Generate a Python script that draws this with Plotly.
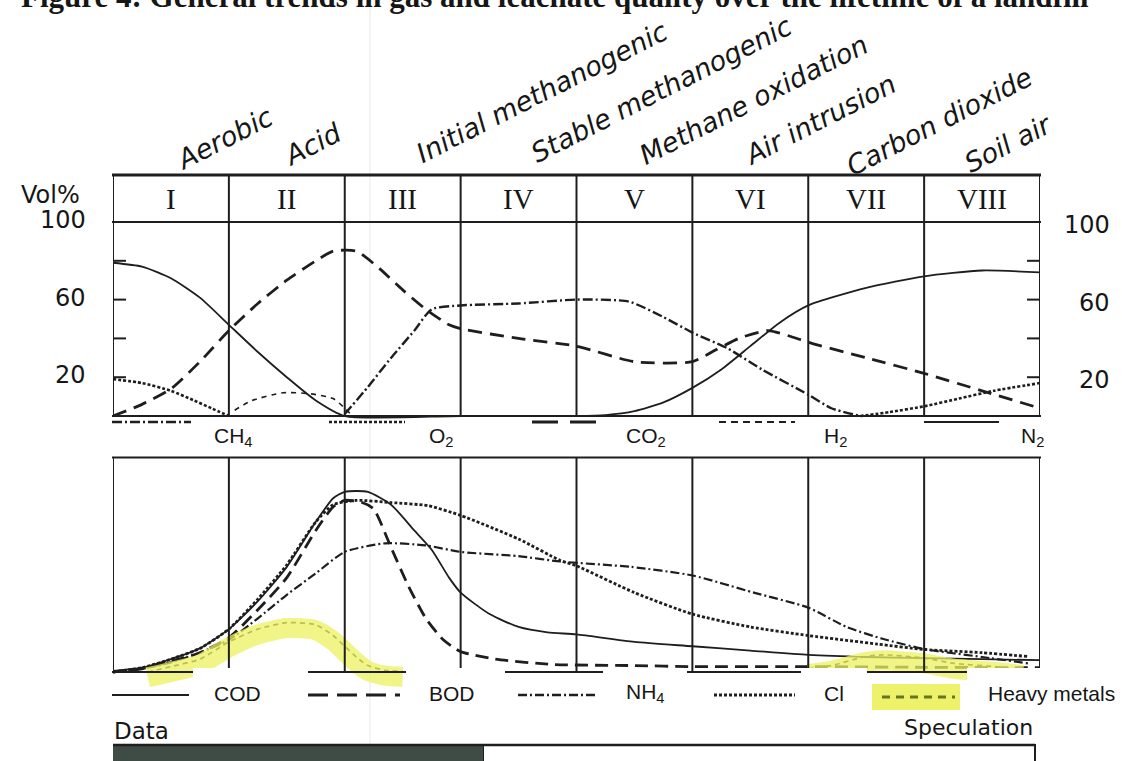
import plotly.graph_objects as go

W, H = 1122, 761
def px(x): return x / W
def py(y): return 1 - y / H

# ---------------- DATA ----------------
phases_roman = ["I", "II", "III", "IV", "V", "VI", "VII", "VIII"]
phase_names = ["Aerobic", "Acid", "Initial methanogenic", "Stable methanogenic",
               "Methane oxidation", "Air intrusion", "Carbon dioxide", "Soil air"]

gas_ticks_left = [100, 60, 20]
gas_ticks_right = [100, 60, 20]

# Gas composition (Vol%) vs phase position (0..8)
n2_t = [0, 0.25, 0.5, 0.75, 1.0, 1.25, 1.5, 1.75, 2.0, 3.0, 4.0, 4.25, 4.5, 4.75, 5.0, 5.25, 5.5, 5.75, 6.0, 6.5, 7.0, 7.5, 8.0]
n2_v = [79, 77, 71, 61, 47, 33, 20, 8, 0, 0, 0, 0.5, 2.5, 7, 14.5, 24, 36, 48, 57, 66, 72, 75, 74]

co2_t = [0, 0.25, 0.5, 0.75, 1.0, 1.25, 1.5, 1.75, 1.9, 2.1, 2.3, 2.5, 2.7, 2.9, 3.0, 3.5, 4.0, 4.5, 5.0, 5.2, 5.4, 5.65, 5.85, 6.0, 6.5, 7.0, 7.5, 8.0]
co2_v = [0, 6, 14, 28, 44, 58, 70, 80, 85, 85, 76, 65, 55, 47, 45, 40, 36, 28, 28, 34, 40, 44, 41, 38, 30, 22, 13, 4]

ch4_t = [2.0, 2.2, 2.4, 2.6, 2.75, 3.0, 3.5, 4.0, 4.45, 4.75, 5.0, 5.3, 5.6, 6.0, 6.2, 6.45]
ch4_v = [1, 15, 30, 44, 55, 57, 58, 60, 59, 51, 43, 35, 24, 11, 4, 0]

o2_t = [0, 0.25, 0.5, 0.7, 0.85, 1.0, None, 6.45, 6.7, 7.0, 7.3, 7.6, 8.0]
o2_v = [19, 17, 13, 8, 4, 0, None, 0, 2, 5, 9, 13, 17]

h2_t = [1.05, 1.2, 1.47, 1.7, 1.9, 2.0, 2.05]
h2_v = [3, 8, 12, 11.5, 9, 4, 1]

# Leachate quality (relative) vs phase position
cod_t = [0, 0.25, 0.5, 0.75, 1.0, 1.25, 1.5, 1.75, 1.9, 2.0, 2.2, 2.4, 2.6, 2.75, 2.9, 3.0, 3.25, 3.5, 3.75, 4.0, 4.5, 5.0, 5.5, 6.0, 6.5, 7.0, 7.5, 8.0]
cod_v = [0.5, 2, 6, 11, 20, 33, 49, 70, 81, 84, 84, 78, 66, 57, 44, 37, 27, 21, 18.5, 17.5, 14, 12, 10, 8, 7, 6.5, 6, 5.5]

bod_t = [0, 0.25, 0.5, 0.75, 1.0, 1.25, 1.5, 1.75, 1.9, 2.0, 2.15, 2.25, 2.4, 2.55, 2.7, 2.85, 3.0, 3.3, 3.8, 4.5, 5.0, 6.0, 7.0, 8.0]
bod_v = [0, 1.5, 5, 9, 16, 29, 44, 66, 77, 80, 79, 76, 58, 40, 25, 15, 9.5, 6, 3.5, 3, 2.5, 2.5, 2.2, 2]

nh4_t = [0, 0.25, 0.5, 0.75, 1.0, 1.25, 1.5, 1.75, 2.0, 2.35, 2.7, 3.0, 3.5, 3.86, 4.47, 5.0, 5.53, 6.0, 6.33, 6.64, 7.0, 7.5, 7.9]
nh4_v = [0, 1.5, 4.5, 9, 15, 25, 36, 46, 56, 60, 59, 56, 54, 51.5, 49, 45, 37, 30, 21, 15.5, 10.7, 7, 4]

cl_t = [0, 0.25, 0.5, 0.75, 1.0, 1.25, 1.5, 1.75, 1.9, 2.1, 2.4, 2.72, 3.0, 3.5, 3.86, 4.0, 4.5, 5.0, 5.5, 6.0, 6.6, 7.0, 7.5, 7.9]
cl_v = [0, 2, 6, 11, 20, 34, 50, 70, 78, 80, 79, 77.5, 73, 62, 52, 49.5, 37, 27, 21, 17, 13, 10.5, 9, 7.2]

hm_t = [0.3, 0.5, 0.75, 1.0, 1.25, 1.5, 1.75, 1.9, 2.0, 2.1, 2.2, 2.35, 2.5, None, 6.0, 6.2, 6.48, 6.64, 7.0, 7.26, 7.66, 7.85]
hm_v = [0, 2.5, 6, 14, 20, 23, 22, 17, 12, 7, 3, 0.8, 0.3, None, 1.5, 3, 7, 8, 6.5, 4, 2.3, 1]

gas_legend = ["CH<sub>4</sub>", "O<sub>2</sub>", "CO<sub>2</sub>", "H<sub>2</sub>", "N<sub>2</sub>"]
leach_legend = ["COD", "BOD", "NH<sub>4</sub>", "Cl", "Heavy metals"]

# ---------------- STYLE ----------------
INK = "#1e1e1e"
YEL = "#edf26a"
dash_ch4 = "10px,3px,2px,3px"
dash_o2 = "3px,2px"
dash_co2 = "14px,8px"
dash_h2 = "5px,5px"
dash_bod = "13px,7px"
dash_nh4 = "9px,3px,2px,3px"
dash_cl = "3px,2px"
dash_hm = "5px,4px"

fig = go.Figure()

def line(x, y, dash, width, xa="x", ya="y", color=INK, name=""):
    fig.add_trace(go.Scatter(x=x, y=y, mode="lines", xaxis=xa, yaxis=ya, name=name,
                             line=dict(color=color, width=width, dash=dash, shape="spline", smoothing=0.6),
                             connectgaps=False, hoverinfo="skip", showlegend=False))

# top panel
line(n2_t, n2_v, "solid", 1.8, name="N2")
line(co2_t, co2_v, dash_co2, 2.8, name="CO2")
line(ch4_t, ch4_v, dash_ch4, 2.4, name="CH4")
line(o2_t, o2_v, dash_o2, 2.6, name="O2")
line(h2_t, h2_v, dash_h2, 1.6, name="H2")

# bottom panel
line(hm_t, hm_v, "solid", 20, xa="x2", ya="y3", color="rgba(236,242,95,0.75)", name="hl")
line(cod_t, cod_v, "solid", 1.8, xa="x2", ya="y2", name="COD")
line(bod_t, bod_v, dash_bod, 2.8, xa="x2", ya="y2", name="BOD")
line(nh4_t, nh4_v, dash_nh4, 2.2, xa="x2", ya="y2", name="NH4")
line(cl_t, cl_v, dash_cl, 2.8, xa="x2", ya="y2", name="Cl")
line(hm_t, hm_v, dash_hm, 1.7, xa="x2", ya="y2", color="#2a2a20", name="HM")

shapes = []
def seg(x0, y0, x1, y1, w=2, dash="solid", color=INK, xref="paper", yref="paper", layer="above"):
    shapes.append(dict(type="line", x0=x0, y0=y0, x1=x1, y1=y1, xref=xref, yref=yref,
                       line=dict(color=color, width=w, dash=dash), layer=layer))
def rect(x0, y0, x1, y1, fill, lc=None, lw=0, layer="above"):
    shapes.append(dict(type="rect", x0=px(x0), x1=px(x1), y0=py(y0), y1=py(y1),
                       xref="paper", yref="paper", fillcolor=fill,
                       line=dict(color=lc or fill, width=lw), layer=layer))

# scan crease
seg(px(370), 0, px(370), 1, w=1, color="#e8e8e8", layer="below")

# top panel frame
seg(px(112), py(175), px(1041), py(175), w=3)
seg(px(112), py(222), px(1041), py(222), w=2)
seg(px(112), py(416), px(1041), py(416), w=2.2)
for k in range(9):
    seg(k, py(175), k, py(416), w=2, xref="x")
# ticks
for v in [20, 40, 60, 80]:
    seg(px(113), v, px(126), v, w=2, yref="y")
    seg(px(1027), v, px(1040), v, w=2, yref="y")

# bottom panel frame
seg(px(112), py(457.5), px(1041), py(457.5), w=2.2)
seg(px(112), py(672), px(1041), py(672), w=2.2)
for k in range(9):
    seg(k, py(457.5), k, py(672), w=2, xref="x2")

# legend cover boxes (white labels pasted over the bottom frame)
for x0, x1 in [(193, 308), (406, 505), (603, 687), (801, 867), (967, 1122)]:
    rect(x0, 668, x1, 716, "white")

# legend samples - gases
gy = 422
seg(px(112), py(gy), px(191), py(gy), w=2.4, dash=dash_ch4)
seg(px(329), py(gy), px(405), py(gy), w=2.6, dash=dash_o2)
seg(px(532), py(gy), px(596), py(gy), w=3.2, dash="26px,12px")
seg(px(719), py(gy), px(795), py(gy), w=1.8, dash="7px,5px")
seg(px(924), py(gy), px(999), py(gy), w=2)

# legend samples - leachate
ly = 695
seg(px(112), py(ly), px(189), py(ly), w=2)
seg(px(308), py(ly), px(400), py(ly), w=3.2, dash="20px,9px")
seg(px(518), py(ly), px(598), py(ly), w=2.4, dash=dash_nh4)
seg(px(714), py(ly), px(795), py(ly), w=2.8, dash=dash_cl)
rect(872, 684, 960, 710, YEL)
seg(px(882), py(697), px(955), py(697), w=3, dash="8px,6px", color="#667522")

# data/speculation bar
rect(483, 745, 1035, 790, "white", lc=INK, lw=2)
rect(113, 745, 483, 790, "#3f4c45")
seg(px(113), py(745), px(1035), py(745), w=2.5)

annotations = []
def txt(x, y, s, size, family="DejaVu Sans", xanchor="center", yanchor="middle", angle=0,
        style="normal", weight="normal", xref="paper", yref="paper", yshift=0):
    annotations.append(dict(x=x, y=y, xref=xref, yref=yref, text=s, showarrow=False,
                            xanchor=xanchor, yanchor=yanchor, textangle=angle, yshift=yshift,
                            font=dict(family=family, size=size, color="#161616", style=style, weight=weight)))

# Title (cut off at the top of the page)
txt(px(555), py(16), "Figure 4: General trends in gas and leachate quality over the lifetime of a landfill",
    31, family="Liberation Serif", weight="bold", yanchor="bottom")

# phase names
name_pos = [(224, 138), (312, 144), (541, 92), (661, 89), (754, 100), (820, 120), (939, 121), (1008, 143)]
for (cx, cy), nm in zip(name_pos, phase_names):
    txt(px(cx), py(cy), nm, 27, angle=-27, style="italic")

# roman numerals
for k, r in enumerate(phases_roman):
    txt(k + 0.5, py(199), r, 29, family="Liberation Serif", xref="x")

# axis labels
txt(px(50), py(195), "Vol%", 24)
for v in gas_ticks_left:
    txt(px(88), v, str(v), 24, xanchor="right", yref="y", yshift=2)
for v in gas_ticks_right:
    txt(px(1112), v, str(v), 24, xanchor="right", yref="y", yshift=-3)

# legend labels
for x, s in zip([212, 427, 624, 822, 1019], gas_legend):
    txt(px(x), py(437), s, 21, family="Liberation Sans", xanchor="left")
for x, s in zip([212, 427, 624, 822, 986], leach_legend):
    txt(px(x), py(693), s, 21, family="Liberation Sans", xanchor="left")

txt(px(112), py(731), "Data", 23, xanchor="left")
txt(px(1035), py(727), "Speculation", 22, xanchor="right")

ax_common = dict(visible=False, showgrid=False, zeroline=False, fixedrange=True)
fig.update_layout(
    width=W, height=H, margin=dict(l=0, r=0, t=0, b=0),
    paper_bgcolor="white", plot_bgcolor="rgba(0,0,0,0)",
    showlegend=False,
    xaxis=dict(domain=[px(113), px(1040)], range=[0, 8], anchor="y", **ax_common),
    yaxis=dict(domain=[py(419.9), py(222)], range=[-2, 100], anchor="x", **ax_common),
    xaxis2=dict(domain=[px(113), px(1040)], range=[0, 8], anchor="y2", **ax_common),
    yaxis2=dict(domain=[py(689.16), py(457.5)], range=[-8, 100], anchor="x2", **ax_common),
    yaxis3=dict(overlaying="y2", range=[-5.5, 102.5], anchor="x2", **ax_common),
    shapes=shapes, annotations=annotations,
)

fig.write_html("out.html", config={"displayModeBar": False},
               post_script="document.body.style.margin='0px';document.body.style.overflow='hidden';")
